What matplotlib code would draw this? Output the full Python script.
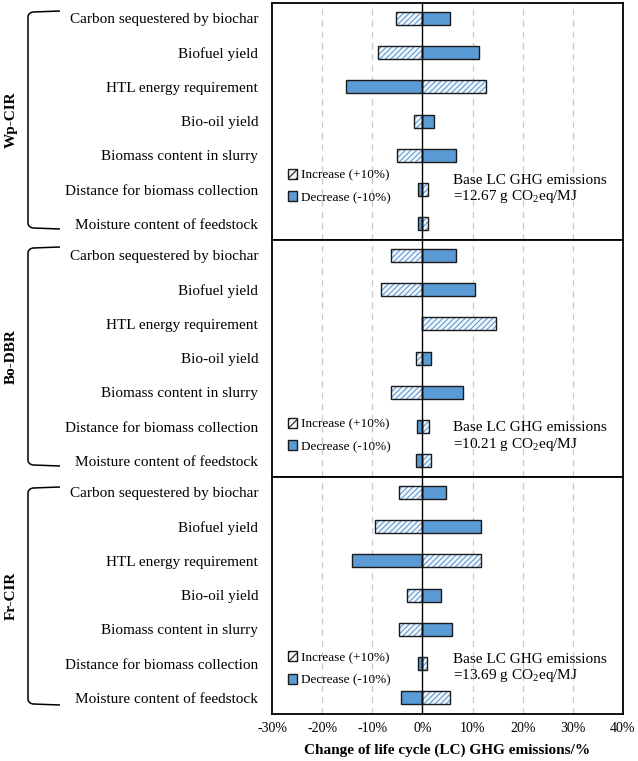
import matplotlib
matplotlib.use("Agg")
import matplotlib.pyplot as plt
import numpy as np
from matplotlib.patches import Patch
from matplotlib.path import Path
from matplotlib.patches import PathPatch

plt.rcParams['font.family'] = ['Liberation Serif', 'DejaVu Serif']
plt.rcParams['mathtext.fontset'] = 'custom'
plt.rcParams['mathtext.rm'] = 'Liberation Serif'
plt.rcParams['hatch.linewidth'] = 0.8

parameters = ["Carbon sequestered by biochar", "Biofuel yield", "HTL energy requirement",
              "Bio-oil yield", "Biomass content in slurry", "Distance for biomass collection",
              "Moisture content of feedstock"]
groups = ["Wp-CIR", "Bo-DBR", "Fr-CIR"]
base_emissions = ["12.67", "10.21", "13.69"]

# change of LC GHG emissions (%) for +10% and -10% parameter change
increase_wp = [-5.2, -8.9, 12.6, -1.7, -5.0, 1.1, 1.1]
decrease_wp = [5.4, 11.2, -15.2, 2.4, 6.6, -0.9, -0.9]
increase_bo = [-6.3, -8.2, 14.6, -1.3, -6.2, 1.3, 1.8]
decrease_bo = [6.6, 10.4, 0.0, 1.7, 8.0, -1.1, -1.3]
increase_fr = [-4.7, -9.5, 11.7, -3.0, -4.7, 0.9, 5.5]
decrease_fr = [4.8, 11.7, -14.0, 3.7, 5.8, -0.9, -4.3]

increases = [increase_wp, increase_bo, increase_fr]
decreases = [decrease_wp, decrease_bo, decrease_fr]

xticks = [-30, -20, -10, 0, 10, 20, 30, 40]
xticklabels = ["-30%", "-20%", "-10%", "0%", "10%", "20%", "30%", "40%"]

blue = "#5B9BD5"
hatch_face = "#F2F6FC"
edge = "#1a1a1a"

W, H = 638, 761
fig = plt.figure(figsize=(W / 100, H / 100), dpi=100)

left_px, right_px = 272, 623
top_px, bottom_px = 3, 714
ph = (bottom_px - top_px) / 3

legend_y = [4.9, 5.25, 5.15]
base_y = [5.0, 5.3, 5.15]

for g in range(3):
    t = top_px + g * ph
    ax = fig.add_axes([left_px / W, 1 - (t + ph) / H, (right_px - left_px) / W, ph / H])
    y = np.arange(len(parameters))
    bh = 0.38
    # hatched increase bars
    ax.barh(y, increases[g], height=bh, color=hatch_face, edgecolor=blue, hatch="//////",
            linewidth=0, zorder=3)
    ax.barh(y, increases[g], height=bh, facecolor="none", edgecolor=edge, linewidth=1.0, zorder=4)
    # decrease bars
    ax.barh(y, decreases[g], height=bh, color=blue, edgecolor=edge, linewidth=1.0, zorder=3)
    ax.set_xlim(-30, 40)
    ax.set_ylim(6.47, -0.45)
    for xv in [-20, -10, 10, 20, 30]:
        ax.axvline(xv, color="#C8C8C8", linestyle=(0, (5, 4)), linewidth=0.9, zorder=1)
    ax.axvline(0, color="black", linewidth=1.0, zorder=5)
    ax.set_yticks(y)
    ax.set_yticklabels(parameters, fontsize=11)
    ax.tick_params(axis="y", length=0, pad=10)
    ax.set_xticks(xticks)
    if g == 2:
        ax.set_xticklabels(xticklabels, fontsize=10)
        ax.tick_params(axis="x", length=0, pad=6)
        ax.set_xlabel("Change of life cycle (LC) GHG emissions/%", fontsize=11,
                      fontweight="bold", labelpad=6)
    else:
        ax.tick_params(axis="x", length=0, labelbottom=False)
    for s in ax.spines.values():
        s.set_linewidth(1.3)
        s.set_color("black")
    handles = [Patch(facecolor=hatch_face, edgecolor=edge, hatch="////", label="Increase (+10%)"),
               Patch(facecolor=blue, edgecolor=edge, label="Decrease (-10%)")]
    ax.legend(handles=handles, loc="center left",
              bbox_to_anchor=(-26.8, legend_y[g]), bbox_transform=ax.transData,
              frameon=False, fontsize=9.5, handlelength=0.65, handleheight=0.8,
              handletextpad=0.3, labelspacing=0.75, borderpad=0, borderaxespad=0)
    ax.text(6.0, base_y[g], "Base LC GHG emissions\n=" + base_emissions[g] + r" g CO$_\mathrm{2}$eq/MJ",
            fontsize=11, ha="left", va="center", linespacing=1.1, zorder=6)

# brackets and group labels
brackets = [(11, 229), (247, 466), (487, 705)]
for g, (bt, bb) in enumerate(brackets):
    xv, xe = 28, 60
    r = 5
    verts = [(xe, bt), (xv + r, bt + 1), (xv, bt + 2), (xv, bt + r + 1),
             (xv, bb - r - 1), (xv, bb - 2), (xv + r, bb - 1), (xe, bb)]
    codes = [Path.MOVETO, Path.LINETO, Path.CURVE3, Path.CURVE3,
             Path.LINETO, Path.CURVE3, Path.CURVE3, Path.LINETO]
    verts_f = [(vx / W, 1 - vy / H) for vx, vy in verts]
    fig.add_artist(PathPatch(Path(verts_f, codes), transform=fig.transFigure,
                             facecolor="none", edgecolor="black", linewidth=1.1))
    fig.text(11 / W, 1 - ((bt + bb) / 2) / H, groups[g], rotation=90, fontsize=11,
             fontweight="bold", ha="center", va="center")

fig.savefig("out.png", dpi=100)
